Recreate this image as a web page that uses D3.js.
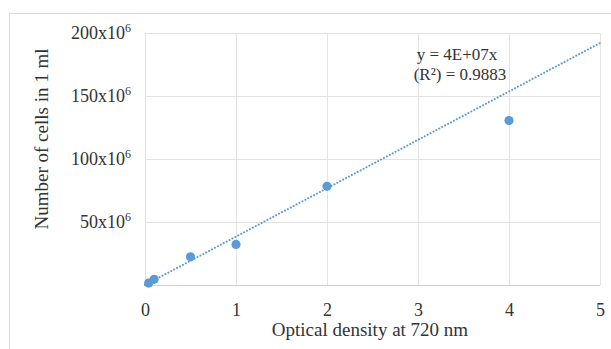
<!DOCTYPE html>
<html>
<head>
<meta charset="utf-8">
<script src="https://cdn.jsdelivr.net/npm/d3@7"></script>
<style>
  html, body { margin: 0; padding: 0; background: #fff; }
  svg { display: block; font-family: "Liberation Serif", "Times New Roman", serif; }
</style>
</head>
<body>
<svg id="chart" width="611" height="349"></svg>
<script>
// Optical density (720 nm) vs. cell count (millions per ml)
const opticalDensity = [0.04, 0.1, 0.5, 1, 2, 4];
const cellsMillions  = [1.5, 4.5, 22.4, 32.2, 78.3, 130.5];
const xTicks = [0, 1, 2, 3, 4, 5];
const yTicks = [50, 100, 150, 200];
// linear fit through origin, millions of cells per OD unit
const trendSlope = 38.4;
const equationLines = ["y = 4E+07x", "(R²) = 0.9883"];

const svg = d3.select("#chart");
const textColor = "#333333";

const x = d3.scaleLinear().domain([0, 5]).range([145, 600]);
const y = d3.scaleLinear().domain([0, 200]).range([285, 33]);

// outer frame
svg.append("rect")
  .attr("x", 9.5).attr("y", 13.5)
  .attr("width", 640).attr("height", 400)
  .attr("fill", "none").attr("stroke", "#d9d9d9").attr("stroke-width", 1);

// gridlines
const grid = svg.append("g").attr("stroke", "#e3e3e3").attr("stroke-width", 1);
grid.selectAll("line.v").data(xTicks).join("line")
  .attr("x1", d => Math.round(x(d)) + 0.5).attr("x2", d => Math.round(x(d)) + 0.5)
  .attr("y1", y(200)).attr("y2", y(0));
grid.selectAll("line.h").data([0].concat(yTicks)).join("line")
  .attr("x1", x(0)).attr("x2", x(5))
  .attr("y1", d => Math.round(y(d)) + 0.5).attr("y2", d => Math.round(y(d)) + 0.5)
  .attr("stroke", d => d === 0 ? "#d0d0d0" : "#e3e3e3");

// x axis tick labels
const xAxis = d3.axisBottom(x).tickValues(xTicks).tickSize(0).tickPadding(0).tickFormat(d3.format("d"));
const gx = svg.append("g").attr("transform", `translate(0, 316)`).call(xAxis);
gx.select(".domain").remove();
gx.selectAll("text").attr("font-size", 18).attr("fill", textColor)
  .attr("font-family", "Liberation Serif, serif").attr("dy", "0");

// y axis tick labels with superscript exponent
const yAxis = d3.axisLeft(y).tickValues(yTicks).tickSize(0).tickPadding(0).tickFormat(() => "");
const gy = svg.append("g").attr("transform", `translate(131, 0)`).call(yAxis);
gy.select(".domain").remove();
gy.selectAll(".tick text").each(function(d) {
  const t = d3.select(this)
    .attr("font-size", 18).attr("fill", textColor)
    .attr("font-family", "Liberation Serif, serif")
    .attr("text-anchor", "end").attr("dy", "0.32em");
  t.append("tspan").text(d + "x10");
  t.append("tspan").text("6").attr("font-size", 12).attr("dy", "-0.6em");
});

// trendline
svg.append("line")
  .attr("x1", x(0)).attr("y1", y(0))
  .attr("x2", x(5)).attr("y2", y(trendSlope * 5))
  .attr("stroke", "#5b9bd5").attr("stroke-width", 2)
  .attr("stroke-dasharray", "0.1 3.2").attr("stroke-linecap", "round");

// data points
svg.append("g").selectAll("circle")
  .data(opticalDensity.map((v, i) => [v, cellsMillions[i]]))
  .join("circle")
  .attr("cx", d => x(d[0])).attr("cy", d => y(d[1]))
  .attr("r", 4.6).attr("fill", "#5b9bd5");

// trendline equation
const eq = svg.append("text")
  .attr("font-size", 17).attr("fill", textColor).attr("text-anchor", "middle");
eq.append("tspan").attr("x", 457).attr("y", 60).text(equationLines[0]);
eq.append("tspan").attr("x", 460).attr("y", 80).text(equationLines[1]);

// axis titles
svg.append("text")
  .attr("x", 370).attr("y", 336)
  .attr("text-anchor", "middle").attr("font-size", 19).attr("fill", textColor)
  .text("Optical density at 720 nm");
svg.append("text")
  .attr("transform", "translate(48, 139) rotate(-90)")
  .attr("text-anchor", "middle").attr("font-size", 19).attr("fill", textColor)
  .text("Number of cells in 1 ml");
</script>
</body>
</html>
